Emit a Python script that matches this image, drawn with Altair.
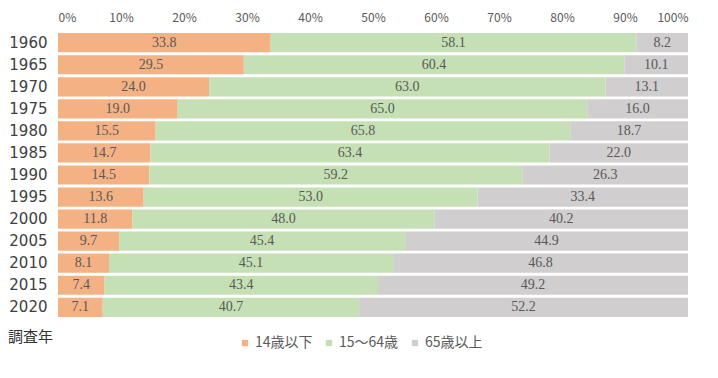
import altair as alt
import pandas as pd

years = ["1960", "1965", "1970", "1975", "1980", "1985", "1990", "1995", "2000", "2005", "2010", "2015", "2020"]
young = [33.8, 29.5, 24.0, 19.0, 15.5, 14.7, 14.5, 13.6, 11.8, 9.7, 8.1, 7.4, 7.1]
working = [58.1, 60.4, 63.0, 65.0, 65.8, 63.4, 59.2, 53.0, 48.0, 45.4, 45.1, 43.4, 40.7]
old = [8.2, 10.1, 13.1, 16.0, 18.7, 22.0, 26.3, 33.4, 40.2, 44.9, 46.8, 49.2, 52.2]
groups = ["14歳以下", "15～64歳", "65歳以上"]
colors = ["#F4B183", "#C5E0B4", "#D0CECE"]
x_ticks = [0, 0.1, 0.2, 0.3, 0.4, 0.5, 0.6, 0.7, 0.8, 0.9, 1.0]

rows = []
for i, y in enumerate(years):
    for k, vals in enumerate([young, working, old]):
        rows.append({"year": y, "group": groups[k], "value": vals[i], "order": k})
df = pd.DataFrame(rows)

base = alt.Chart(df)

y_enc = alt.Y(
    "year:N",
    sort=years,
    title=None,
    scale=alt.Scale(paddingInner=0.13, paddingOuter=0.05),
    axis=alt.Axis(
        labelFontSize=15,
        labelFont="DejaVu Sans",
        labelColor="#404040",
        labelPadding=11,
        domain=False,
        ticks=False,
        grid=False,
    ),
)

bars = base.mark_bar().encode(
    x=alt.X(
        "value:Q",
        stack="normalize",
        title=None,
        scale=alt.Scale(domain=[0, 1], nice=False),
        axis=alt.Axis(
            orient="top",
            values=x_ticks,
            format=".0%",
            labelFontSize=12,
            labelFont="Noto Sans CJK JP",
            labelColor="#595959",
            labelPadding=8,
            domain=False,
            ticks=False,
            grid=False,
        ),
    ),
    y=y_enc,
    color=alt.Color(
        "group:N",
        scale=alt.Scale(domain=groups, range=colors),
        legend=alt.Legend(
            title=None,
            orient="none",
            direction="horizontal",
            legendX=180,
            legendY=304,
            symbolType="square",
            symbolSize=40,
            symbolStrokeWidth=0,
            labelFontSize=14,
            labelFont="Noto Sans CJK JP",
            labelColor="#595959",
            columnPadding=9,
            symbolOffset=0,
            labelOffset=3,
        ),
    ),
    order=alt.Order("order:Q"),
)

labels = (
    base.transform_stack(
        stack="value",
        groupby=["year"],
        sort=[alt.SortField("order")],
        as_=["v0", "v1"],
        offset="normalize",
    )
    .transform_calculate(mid="(datum.v0 + datum.v1) / 2")
    .mark_text(font="Liberation Serif", fontSize=14, color="#595959")
    .encode(
        x=alt.X("mid:Q", scale=alt.Scale(domain=[0, 1], nice=False)),
        y=alt.Y("year:N", sort=years),
        text=alt.Text("value:Q", format=".1f"),
    )
)

caption = (
    alt.Chart(pd.DataFrame({"t": ["調査年"]}))
    .mark_text(align="left", baseline="middle", fontSize=15, font="Noto Sans CJK JP", color="#333333")
    .encode(x=alt.value(-50), y=alt.value(305), text="t:N")
)

chart = (
    alt.layer(bars, labels, caption)
    .properties(
        width=630,
        height=286,
        autosize=alt.AutoSizeParams(type="none"),
        padding={"left": 50, "top": 24, "right": 22, "bottom": 46},
    )
    .configure_view(stroke=None)
)

chart.save("out.html", embed_options={"renderer": "svg", "actions": False})
